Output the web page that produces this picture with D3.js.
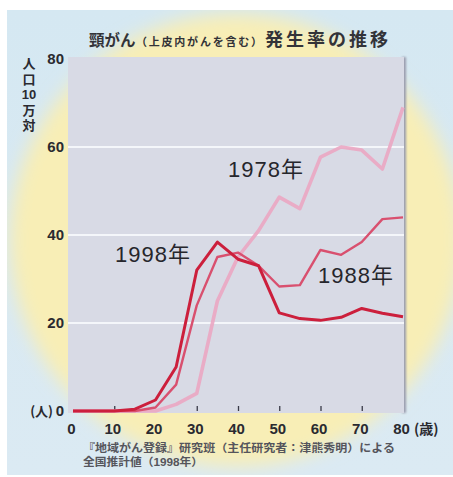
<!DOCTYPE html>
<html lang="ja">
<head>
<meta charset="utf-8">
<script src="https://cdn.jsdelivr.net/npm/d3@7"></script>
<style>
  html, body { margin: 0; padding: 0; background: #ffffff; }
  svg { display: block; }
</style>
</head>
<body>
<div id="chart"></div>
<script>
// Age groups (years) and incidence per 100,000 population
const ages = [0, 5, 10, 15, 20, 25, 30, 35, 40, 45, 50, 55, 60, 65, 70, 75, 80];
const rate1978 = [0, 0, 0, 0, 0, 1.5, 4, 25, 35, 41, 48.6, 46, 57.7, 60, 59.3, 55, 69];
const rate1988 = [0, 0, 0, 0, 0.8, 6, 24, 35, 36, 33, 28.3, 28.6, 36.6, 35.5, 38.4, 43.6, 44];
const rate1998 = [0, 0, 0, 0.4, 2.5, 10, 32, 38.4, 34.5, 33, 22.3, 21, 20.6, 21.3, 23.3, 22.2, 21.4];

const xTicks = [0, 10, 20, 30, 40, 50, 60, 70, 80];
const yTicks = [0, 20, 40, 60, 80];
const gridValues = [20, 40, 60];
const innerTicks = [10, 30, 40, 50, 60, 70];

const W = 453, H = 477;
const svg = d3.select("#chart").append("svg").attr("width", W).attr("height", H);
const defs = svg.append("defs");

// soft backdrop
defs.append("linearGradient").attr("id", "sky").attr("x1", 0).attr("y1", 0).attr("x2", 0).attr("y2", 1)
  .selectAll("stop").data([["0%", "#d5e8f2"], ["100%", "#dbeaf3"]]).join("stop")
  .attr("offset", d => d[0]).attr("stop-color", d => d[1]);
defs.append("filter").attr("id", "soft").attr("x", "-20%").attr("y", "-20%").attr("width", "140%").attr("height", "140%")
  .append("feGaussianBlur").attr("stdDeviation", 9);
defs.append("filter").attr("id", "edge").attr("x", "-200%").attr("width", "500%")
  .append("feGaussianBlur").attr("stdDeviation", 1.2);
defs.append("clipPath").attr("id", "panel").append("rect").attr("x", 7).attr("y", 10).attr("width", W - 7).attr("height", 465);

const bg = svg.append("g").attr("clip-path", "url(#panel)");
bg.append("rect").attr("x", 7).attr("y", 10).attr("width", W - 7).attr("height", 465).attr("fill", "url(#sky)");
bg.append("ellipse").attr("cx", 236).attr("cy", 240).attr("rx", 226).attr("ry", 226)
  .attr("fill", "#f8eeb6").attr("filter", "url(#soft)");

const x = d3.scaleLinear().domain([0, 80]).range([73, 403]);
const y = d3.scaleLinear().domain([0, 80]).range([411, 59]);

// plot panel
const plotL = 68, plotR = 404, plotT = 57, plotB = 413;
svg.append("rect").attr("x", plotR - 2).attr("y", plotT).attr("width", 4).attr("height", plotB - plotT)
  .attr("fill", "#9a9cae").attr("filter", "url(#edge)");
svg.append("rect").attr("x", plotL).attr("y", plotT).attr("width", plotR - plotL).attr("height", plotB - plotT)
  .attr("fill", "#d8dae5");

// grid
svg.append("g").selectAll("line").data(gridValues).join("line")
  .attr("x1", plotL).attr("x2", plotR)
  .attr("y1", d => y(d)).attr("y2", d => y(d))
  .attr("stroke", "#f4f6fa").attr("stroke-width", 2);

// small inward ticks on the baseline
const xAxisTicks = svg.append("g").attr("transform", `translate(0,${y(0)})`)
  .call(d3.axisBottom(x).tickValues(innerTicks).tickSize(-5).tickFormat(""));
xAxisTicks.select(".domain").remove();
xAxisTicks.selectAll("line").attr("stroke", "#3a3a48").attr("stroke-width", 1.3);

// series
const line = d3.line().x((d, i) => x(ages[i])).y(d => y(d));
const series = [
  { name: "1978", values: rate1978, color: "#eba6c2", width: 3.6, opacity: 0.9 },
  { name: "1988", values: rate1988, color: "#d9506f", width: 2.4, opacity: 1 },
  { name: "1998", values: rate1998, color: "#cc1f3c", width: 3, opacity: 1 }
];
svg.append("g").selectAll("path").data(series).join("path")
  .attr("d", d => line(d.values))
  .attr("fill", "none")
  .attr("stroke", d => d.color)
  .attr("stroke-width", d => d.width)
  .attr("stroke-opacity", d => d.opacity)
  .attr("stroke-linejoin", "round");

// axis tick labels
const tickFont = "'Liberation Sans', Arial, sans-serif";
const xAxis = svg.append("g").attr("transform", `translate(0,${y(0)})`)
  .call(d3.axisBottom(x).tickValues(xTicks).tickSize(0).tickPadding(12));
xAxis.select(".domain").remove();
xAxis.selectAll("text").attr("font-family", tickFont).attr("font-size", 15).attr("font-weight", "bold")
  .attr("fill", "#2a2a30").attr("dx", -2);

const yAxis = svg.append("g").attr("transform", `translate(${plotL},0)`)
  .call(d3.axisLeft(y).tickValues(yTicks).tickSize(0).tickPadding(4));
yAxis.select(".domain").remove();
yAxis.selectAll("text").attr("font-family", tickFont).attr("font-size", 15).attr("font-weight", "bold")
  .attr("fill", "#2a2a30");

const cjk = "'Noto Sans CJK JP', 'Noto Sans CJK SC', sans-serif";
// Latin-first stack: CJK glyphs fall back, but line boxes stay compact
const compact = "'Liberation Sans', 'Noto Sans CJK JP', sans-serif";

// unit labels
svg.append("text").attr("x", 53).attr("y", y(0) + 5).attr("text-anchor", "end")
  .attr("font-family", cjk).attr("font-size", 13).attr("font-weight", "bold").attr("fill", "#2a2a30")
  .text("(人)");
svg.append("text").attr("x", 414).attr("y", y(0) + 23)
  .attr("font-family", cjk).attr("font-size", 14).attr("font-weight", "bold").attr("fill", "#2a2a30")
  .text("(歳)");

// vertical axis title, stacked one glyph group per row
const yTitle = ["人", "口", "10", "万", "対"];
svg.append("text")
  .attr("text-anchor", "middle")
  .attr("font-family", compact)
  .attr("font-size", 13).attr("font-weight", "bold").attr("fill", "#2a2a30")
  .selectAll("tspan").data(yTitle).join("tspan")
  .attr("x", 29).attr("y", (d, i) => 68 + i * 15.6)
  .text(d => d);

// title in three runs: main words large, the parenthetical small
const titleRuns = [
  { text: "頸がん", x: 89, size: 15.5 },
  { text: "（上皮内がんを含む）", x: 136, size: 11, len: 126 },
  { text: "発生率の推移", x: 265, size: 18, len: 123 }
];
svg.append("g").selectAll("text").data(titleRuns).join("text")
  .attr("x", d => d.x).attr("y", 46)
  .attr("font-family", cjk).attr("font-weight", "bold").attr("fill", "#333338")
  .attr("font-size", d => d.size)
  .each(function (d) { if (d.len) d3.select(this).attr("textLength", d.len); })
  .text(d => d.text);

// series labels
const labels = [
  { text: "1978年", x: 228, y: 177 },
  { text: "1998年", x: 115, y: 262 },
  { text: "1988年", x: 318, y: 283 }
];
svg.append("g").selectAll("text").data(labels).join("text")
  .attr("x", d => d.x).attr("y", d => d.y)
  .attr("font-family", compact).attr("font-size", 22).attr("letter-spacing", 1)
  .attr("fill", "#26262c")
  .text(d => d.text);

// source note
const note = svg.append("g").attr("font-family", compact).attr("font-size", 11).attr("font-weight", "bold").attr("fill", "#55555c");
note.append("text").attr("x", 83).attr("y", 452).attr("textLength", 312).attr("lengthAdjust", "spacingAndGlyphs")
  .text("『地域がん登録』研究班（主任研究者：津熊秀明）による");
note.append("text").attr("x", 83).attr("y", 466).attr("textLength", 120).attr("lengthAdjust", "spacingAndGlyphs")
  .text("全国推計値（1998年）");
</script>
</body>
</html>
